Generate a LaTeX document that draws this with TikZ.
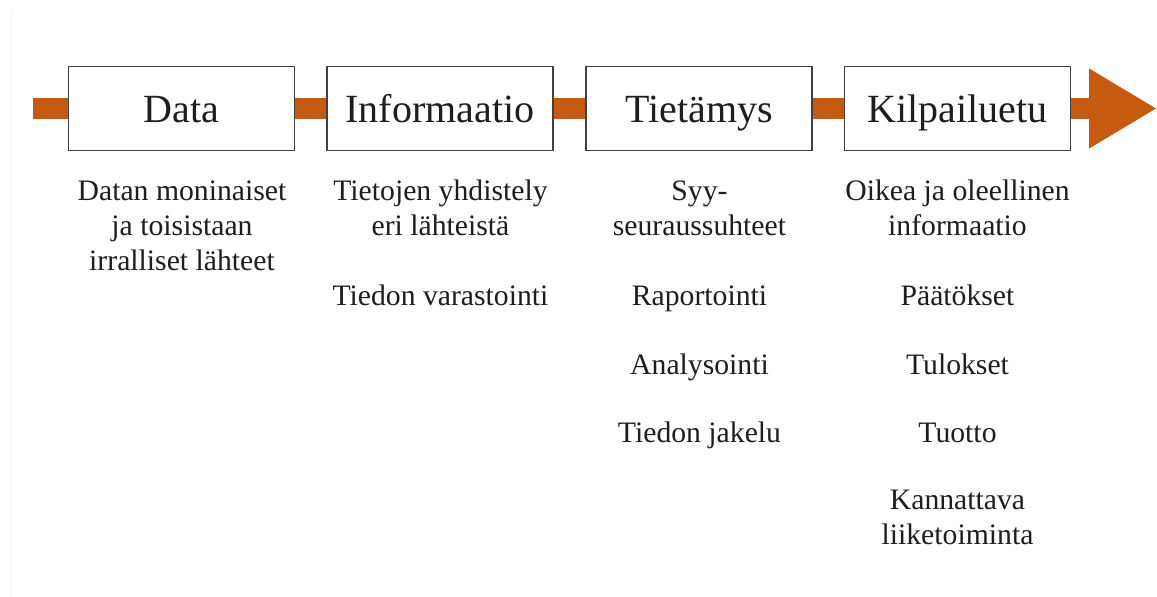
\documentclass[tikz,border=0pt]{standalone}
\usepackage{fontspec}
\setmainfont{Liberation Serif}
\usetikzlibrary{arrows.meta,backgrounds}
\definecolor{flow}{HTML}{C55A11}
\definecolor{edgegray}{HTML}{404040}
\definecolor{ink}{HTML}{1E1E1E}
\newcommand{\stack}[1]{\begin{tabular}[t]{@{}c@{}}#1\end{tabular}}
\begin{document}
\begin{tikzpicture}[x=1pt,y=-1pt,
  stagebox/.style={draw=edgegray, line width=1.5pt, fill=white,
    minimum width=226pt, minimum height=84pt, inner sep=0pt,
    text height=27pt, text depth=0pt, text=ink,
    font=\fontsize{40}{48}\selectfont},
  flowbar/.style={draw=flow, line width=21pt, line cap=butt},
  note/.style={inner sep=0pt, anchor=base, text=ink,
    font=\fontsize{29.7}{35}\selectfont}]
\useasboundingbox (0,0) rectangle (1157,597);

% stages
\node[stagebox] (data) at (181.5,108.5) {Data};
\node[stagebox] (info) at (440,108.5) {Informaatio};
\node[stagebox] (tiet) at (699,108.5) {Tietämys};
\node[stagebox] (kilp) at (957.5,108.5) {Kilpailuetu};

\coordinate (start) at (33,108.5);
\coordinate (tip) at (1157,108.5);

\begin{scope}[on background layer]
  \fill[white] (0,0) rectangle (1157,597);
  \draw[black!5, line width=1pt] (11,13) -- (11,597);
  \draw[flowbar] (start) -- (data.west);
  \draw[flowbar] (data.east) -- (info.west);
  \draw[flowbar] (info.east) -- (tiet.west);
  \draw[flowbar] (tiet.east) -- (kilp.west);
  \draw[flowbar, -{Triangle[length=68pt,width=75pt]}] (kilp.east) -- (tip);
\end{scope}

% column 1
\node[note] (d1) at (182,200) {\stack{Datan moninaiset\\ja toisistaan\\irralliset lähteet}};

% column 2
\node[note] (i1) at (440.5,200) {\stack{Tietojen yhdistely\\eri lähteistä}};
\node[note] (i2) at (440.5,305) {Tiedon varastointi};

% column 3
\node[note] (t1) at (699.5,200) {\stack{Syy-\\seuraussuhteet}};
\node[note] (t2) at (699.5,305) {Raportointi};
\node[note] (t3) at (699.5,374) {Analysointi};
\node[note] (t4) at (699.5,442) {Tiedon jakelu};

% column 4
\node[note] (k1) at (957.5,200) {\stack{Oikea ja oleellinen\\informaatio}};
\node[note] (k2) at (957.5,305) {Päätökset};
\node[note] (k3) at (957.5,374) {Tulokset};
\node[note] (k4) at (957.5,442) {Tuotto};
\node[note] (k5) at (957.5,509) {\stack{Kannattava\\liiketoiminta}};
\end{tikzpicture}
\end{document}
